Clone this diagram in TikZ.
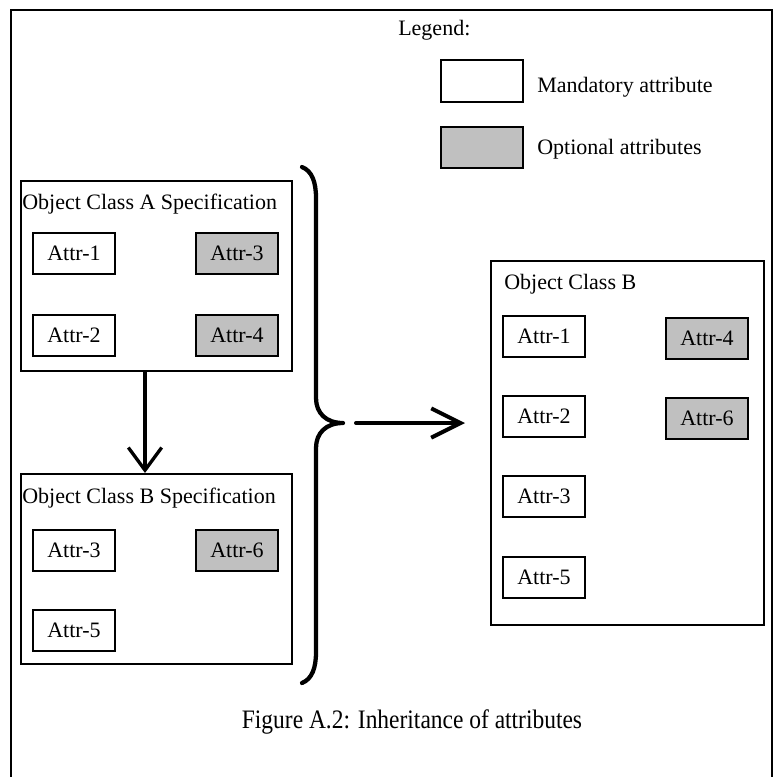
\documentclass[tikz,border=0pt]{standalone}
\usepackage{fontspec}
\setmainfont{Liberation Serif}
\newfontfamily\captionfont[FakeStretch=0.88]{Liberation Serif}
\usetikzlibrary{arrows.meta}
\definecolor{optgray}{HTML}{C0C0C0}
\begin{document}
\begin{tikzpicture}[x=0.75pt,y=-0.75pt,
  txt/.style={inner sep=0pt, font=\fontsize{16.5}{19}\selectfont},
  classbox/.style={draw, line width=1.4pt, inner sep=0pt, anchor=north west},
  attr/.style={draw, line width=1.5pt, inner sep=0pt, minimum width=61.5pt,
    minimum height=30.75pt, font=\fontsize{16.5}{19}\selectfont},
  opt/.style={attr, fill=optgray},
  flow/.style={line cap=round, line join=round},
]
\useasboundingbox (0,0) rectangle (777,776);
\begin{scope}
\clip (0,0) rectangle (777,776);
% outer frame, open at the bottom edge of the page
\draw[line width=1.8pt] (11,790) -- (11,10) -- (772,10) -- (772,790);
\end{scope}

% legend
\node[txt, anchor=base west] (legend) at (398,35) {Legend:};
\node[attr, minimum width=61.5pt, minimum height=31.5pt] (legMand) at (482,81) {};
\node[txt, anchor=base west] (legMandTxt) at (537,92) {Mandatory attribute};
\node[opt, minimum width=61.5pt, minimum height=30.75pt] (legOpt) at (482,147.5) {};
\node[txt, anchor=base west] (legOptTxt) at (537,154) {Optional attributes};

% Object Class A Specification
\node[classbox, minimum width=203.25pt, minimum height=142.5pt] (specA) at (20,180) {};
\node[txt, anchor=base west] (specAtitle) at (22,209) {Object Class A Specification};
\node[attr] (a1) at (74,253.5) {Attr-1};
\node[opt]  (a3) at (237,253.5) {Attr-3};
\node[attr] (a2) at (74,335.5) {Attr-2};
\node[opt]  (a4) at (237,335.5) {Attr-4};

% Object Class B Specification
\node[classbox, minimum width=203.25pt, minimum height=142.5pt] (specB) at (20,473) {};
\node[txt, anchor=base west] (specBtitle) at (22,503) {Object Class B Specification};
\node[attr] (b3) at (74,550) {Attr-3};
\node[opt]  (b6) at (237,550) {Attr-6};
\node[attr] (b5) at (74,630.5) {Attr-5};

% derivation arrow between the specifications
\draw[flow, line width=2.5pt, -{Straight Barb[length=17pt, width=25pt]}]
  (specA.south -| 145,0) -- (specB.north -| 145,0);

% brace collecting both specifications
\draw[flow, line width=3.2pt]
  (302,167) .. controls (312,171) and (316,182) .. (316,198)
  -- (316,398) .. controls (316,413) and (326,423) .. (343,423)
  .. controls (326,423) and (316,433) .. (316,448)
  -- (316,652) .. controls (316,668) and (312,679) .. (302,683);
\coordinate (braceOut) at (356,423);
\coordinate (resultIn) at (465,423);
\draw[flow, line width=3pt, -{Straight Barb[length=22pt, width=22pt]}]
  (braceOut) -- (resultIn);

% resulting Object Class B
\node[classbox, minimum width=204.75pt, minimum height=273pt] (classB) at (490,260) {};
\node[txt, anchor=base west] (classBtitle) at (504,289) {Object Class B};
\node[attr] (c1) at (544,336.5) {Attr-1};
\node[opt]  (c4) at (707,338) {Attr-4};
\node[attr] (c2) at (544,416.5) {Attr-2};
\node[opt]  (c6) at (707,418) {Attr-6};
\node[attr] (c3) at (544,496.5) {Attr-3};
\node[attr] (c5) at (544,577) {Attr-5};

% caption
\node[inner sep=0pt, anchor=base, font=\captionfont\fontsize{20}{24}\selectfont] (caption) at (412,728)
  {Figure A.2: Inheritance of attributes};
\end{tikzpicture}
\end{document}
